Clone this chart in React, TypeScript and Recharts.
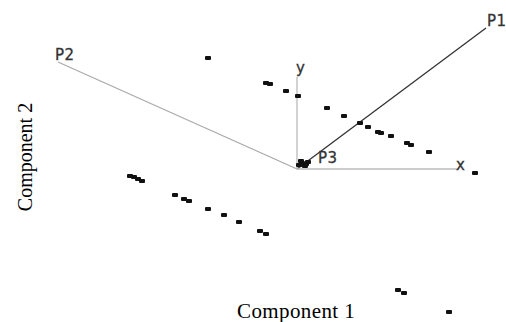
import React from "react";
import { ScatterChart, Scatter, XAxis, YAxis, ReferenceLine, ReferenceDot } from "recharts";

// sample scores on the first two components
const comp1: number[] = [
  -0.89, -0.31, -0.27, -0.11, 0.01, 0.3, 0.47, 0.63, 0.71, 0.81, 0.84, 0.94, 1.1, 1.14, 1.32, 1.78,
  0.02, 0.05, 0.08, 0.11, 0.04, 0.09,
  -1.67, -1.63, -1.59, -1.55, -1.22, -1.13, -1.08, -0.89, -0.73, -0.58, -0.37, -0.31,
  1.01, 1.07, 1.52,
];
const comp2: number[] = [
  1.11, 0.86, 0.85, 0.78, 0.73, 0.61, 0.53, 0.46, 0.42, 0.37, 0.36, 0.33, 0.26, 0.24, 0.17, -0.04,
  0.04, 0.06, 0.03, 0.07, 0.08, 0.05,
  -0.07, -0.08, -0.1, -0.12, -0.26, -0.3, -0.32, -0.4, -0.46, -0.53, -0.62, -0.65,
  -1.21, -1.24, -1.43,
];

// loading vectors / reference axes
const vecNames = ["P1", "P2", "P3", "x", "y"];
const vecX = [1.89, -2.39, 0.07, 1.61, 0];
const vecY = [1.41, 1.07, 0.05, 0, 0.92];
const vecColors = ["#333", "#aaa", "#555", "#bbb", "#bbb"];

const points = comp1.map((x, i) => ({ x, y: comp2[i] }));

const Dash = (props: any) => (
  <rect x={props.cx - 3} y={props.cy - 2} width={6} height={4} rx={1} fill="#111" />
);

const labelOffsets: Record<string, [number, number]> = {
  P1: [1, -2],
  P2: [-3, -2],
  P3: [14, -1],
  x: [-2, 1],
  y: [-1, -4],
};

const VecLabel = (name: string) => (props: any) => {
  const vb = props.viewBox || {};
  const [dx, dy] = labelOffsets[name];
  return (
    <text
      x={vb.x + dx}
      y={vb.y + dy}
      fontFamily="DejaVu Sans"
      fontSize={15}
      letterSpacing={0.5}
      fill="#333"
      stroke="#333"
      strokeWidth={0.3}
    >
      {name}
    </text>
  );
};

export default function App() {
  return (
    <div style={{ position: "relative", width: 506, height: 322 }}>
      <style>{"body{margin:0}"}</style>
      <ScatterChart width={506} height={322} margin={{ top: 0, right: 0, bottom: 0, left: 0 }}>
        <XAxis type="number" dataKey="x" hide domain={[-2.97, 2.09]} allowDataOverflow />
        <YAxis type="number" dataKey="y" hide domain={[-1.53, 1.69]} allowDataOverflow />
        {vecNames.map((n, i) => (
          <ReferenceLine
            key={n}
            segment={[
              { x: 0, y: 0 },
              { x: vecX[i], y: vecY[i] },
            ]}
            stroke={vecColors[i]}
            strokeWidth={1.3}
            ifOverflow="visible"
          />
        ))}
        {vecNames.map((n, i) => (
          <ReferenceDot
            key={"l" + n}
            x={vecX[i]}
            y={vecY[i]}
            r={0}
            fill="none"
            stroke="none"
            ifOverflow="visible"
            label={VecLabel(n)}
          />
        ))}
        <Scatter data={points} shape={Dash} isAnimationActive={false} />
      </ScatterChart>
      <div
        style={{
          position: "absolute",
          left: 237,
          top: 299,
          fontFamily: "Liberation Serif",
          fontSize: 21,
          letterSpacing: 0.4,
          whiteSpace: "nowrap",
        }}
      >
        Component 1
      </div>
      <div
        style={{
          position: "absolute",
          left: 25,
          top: 157,
          transform: "translate(-50%, -50%) rotate(-90deg)",
          fontFamily: "Liberation Serif",
          fontSize: 20,
          whiteSpace: "nowrap",
        }}
      >
        Component 2
      </div>
    </div>
  );
}
